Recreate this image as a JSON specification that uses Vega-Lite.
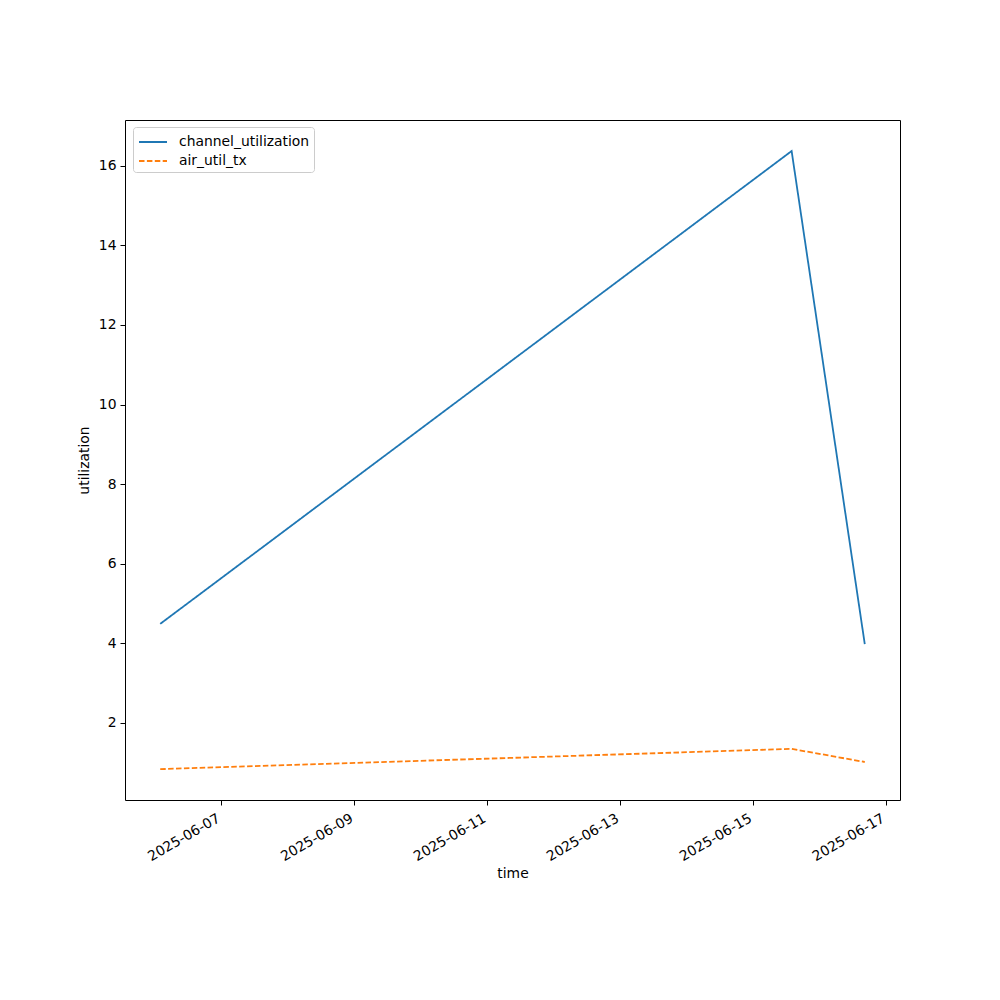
{
  "$schema": "https://vega.github.io/schema/vega-lite/v6.json",
  "width": 775,
  "height": 680,
  "autosize": {"type": "none"},
  "padding": {"left": 125, "top": 120, "right": 100, "bottom": 200},
  "background": "white",
  "config": {
    "font": "DejaVu Sans",
    "view": {"stroke": "black", "strokeWidth": 1},
    "axis": {"grid": false, "domain": false, "tickColor": "black", "tickSize": 5, "labelColor": "black", "labelFontSize": 13.9, "titleFontSize": 13.9, "titleFontWeight": "normal", "titleColor": "black", "labelFont": "DejaVu Sans", "titleFont": "DejaVu Sans"}
  },
  "data": {
    "values": [
      {"time": "2025-06-06T02:00:00", "series": "channel_utilization", "value": 4.49},
      {"time": "2025-06-15T14:00:00", "series": "channel_utilization", "value": 16.37},
      {"time": "2025-06-16T16:25:00", "series": "channel_utilization", "value": 3.98},
      {"time": "2025-06-06T02:00:00", "series": "air_util_tx", "value": 0.84},
      {"time": "2025-06-15T14:00:00", "series": "air_util_tx", "value": 1.35},
      {"time": "2025-06-16T16:25:00", "series": "air_util_tx", "value": 1.02}
    ]
  },
  "mark": {"type": "line", "strokeWidth": 1.8, "clip": true},
  "encoding": {
    "x": {
      "field": "time", "type": "temporal", "title": "time",
      "scale": {"domain": ["2025-06-05T13:17:00", "2025-06-17T05:08:00"]},
      "axis": {
        "values": ["2025-06-07T00:00:00", "2025-06-09T00:00:00", "2025-06-11T00:00:00", "2025-06-13T00:00:00", "2025-06-15T00:00:00", "2025-06-17T00:00:00"],
        "format": "%Y-%m-%d", "labelAngle": -30, "labelAlign": "right", "labelBaseline": "top", "labelPadding": 6, "labelOffset": -6, "titlePadding": 3, "labelFlush": false, "labelOverlap": false
      }
    },
    "y": {
      "field": "value", "type": "quantitative", "title": "utilization",
      "scale": {"domain": [0.065, 17.15], "nice": false, "zero": false},
      "axis": {"values": [2, 4, 6, 8, 10, 12, 14, 16], "labelPadding": 4, "titlePadding": 7}
    },
    "color": {
      "field": "series", "type": "nominal",
      "scale": {"domain": ["channel_utilization", "air_util_tx"], "range": ["#1f77b4", "#ff7f0e"]},
      "legend": {
        "title": null, "orient": "none", "legendX": 8, "legendY": 7,
        "symbolType": "M-1.4,0H1.4", "symbolSize": 400, "symbolStrokeWidth": 1.8, "symbolFillColor": "transparent", "symbolOffset": 5,
        "labelFontSize": 13.9, "labelColor": "black", "labelFont": "DejaVu Sans", "labelOffset": 15,
        "fillColor": "white", "strokeColor": "#cccccc", "cornerRadius": 3, "padding": 4, "rowPadding": 1
      }
    },
    "strokeDash": {
      "field": "series", "type": "nominal",
      "scale": {"domain": ["channel_utilization", "air_util_tx"], "range": [[1, 0], [5.5, 2.4]]},
      "legend": null
    }
  }
}
